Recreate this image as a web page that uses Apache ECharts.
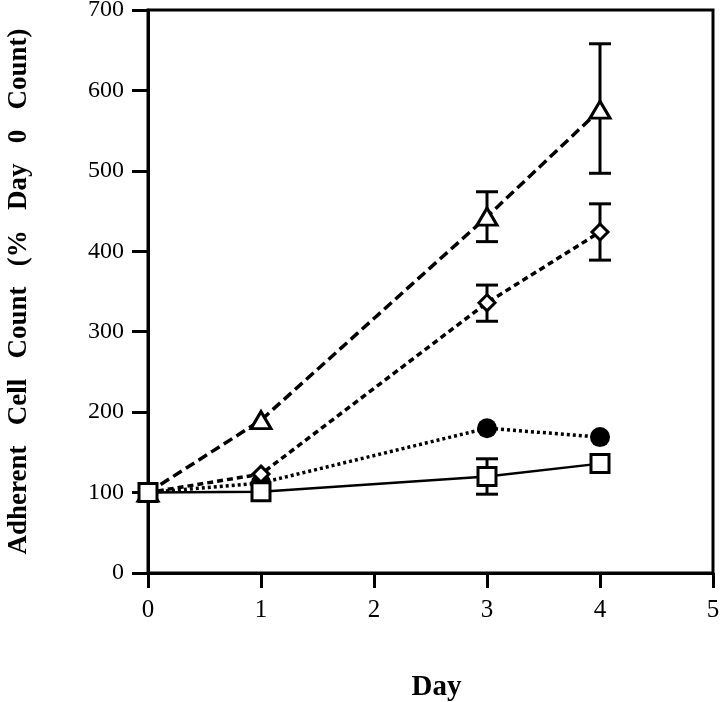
<!DOCTYPE html>
<html>
<head>
<meta charset="utf-8">
<script src="https://cdn.jsdelivr.net/npm/echarts@6/dist/echarts.min.js"></script>
<style>html,body{margin:0;padding:0;background:#fff}#c{width:720px;height:702px}</style>
</head>
<body>
<div id="c"></div>
<script>
var days = [0, 1, 3, 4];
var xTicks = [0, 1, 2, 3, 4, 5];
var yTicks = [0, 100, 200, 300, 400, 500, 600, 700];
var triangleVals = [100, 190, 443, 576];
var diamondVals = [100, 123, 336, 424];
var circleVals = [100, 112, 180, 169];
var squareVals = [100, 101, 120, 136];
// error bars: [day, low, high]
var triangleErr = [[3, 412, 474], [4, 497, 658]];
var diamondErr = [[3, 313, 358], [4, 389, 459]];
var squareErr = [[3, 98, 142]];

function pts(vals) { return days.map(function (d, i) { return [d, vals[i]]; }); }

function errSeries(data) {
  return {
    type: 'custom', z: 1, silent: true,
    data: data,
    renderItem: function (params, api) {
      var x = api.value(0);
      var lo = api.coord([x, api.value(1)]);
      var hi = api.coord([x, api.value(2)]);
      var w = 11;
      var st = { stroke: '#000', lineWidth: 3 };
      return { type: 'group', children: [
        { type: 'line', shape: { x1: lo[0], y1: lo[1], x2: hi[0], y2: hi[1] }, style: st },
        { type: 'line', shape: { x1: lo[0] - w, y1: lo[1], x2: lo[0] + w, y2: lo[1] }, style: st },
        { type: 'line', shape: { x1: hi[0] - w, y1: hi[1], x2: hi[0] + w, y2: hi[1] }, style: st }
      ]};
    }
  };
}

var chart = echarts.init(document.getElementById('c'));
var font = 'Liberation Serif';
chart.setOption({
  animation: false,
  backgroundColor: '#fff',
  grid: { left: 148, right: 7, top: 10, bottom: 129, show: true, borderColor: '#000', borderWidth: 3,
    containLabel: false, outerBoundsMode: 'none' },
  xAxis: {
    type: 'value', min: 0, max: 5, interval: 1,
    name: 'Day', nameLocation: 'middle', nameGap: 100,
    nameTextStyle: { fontFamily: font, fontWeight: 'bold', fontSize: 29, color: '#000', padding: [0, 0, 0, 12] },
    axisLine: { show: true, lineStyle: { color: '#000', width: 3 } },
    axisTick: { show: true, inside: false, length: 15, lineStyle: { color: '#000', width: 3 } },
    axisLabel: { margin: 25, fontFamily: font, fontSize: 25, color: '#000',
      formatter: function (v) { return xTicks.indexOf(v) >= 0 ? String(v) : ''; } },
    splitLine: { show: false }
  },
  yAxis: {
    type: 'value', min: 0, max: 700, interval: 100,
    name: 'Adherent   Cell   Count   (%   Day   0   Count)', nameLocation: 'middle', nameGap: 115,
    nameTextStyle: { fontFamily: font, fontWeight: 'bold', fontSize: 27, color: '#000' },
    axisLine: { show: true, lineStyle: { color: '#000', width: 3 } },
    axisTick: { show: true, inside: false, length: 16, lineStyle: { color: '#000', width: 3 } },
    axisLabel: { margin: 24, fontFamily: font, fontSize: 24, color: '#000',
      formatter: function (v) { return yTicks.indexOf(v) >= 0 ? String(v) : ''; } },
    splitLine: { show: false }
  },
  series: [
    errSeries(triangleErr), errSeries(diamondErr), errSeries(squareErr),
    { type: 'line', data: pts(triangleVals), symbol: 'triangle', symbolSize: [20, 17],
      lineStyle: { color: '#000', width: 3.5, type: [10, 5] },
      itemStyle: { color: '#fff', borderColor: '#000', borderWidth: 3 }, z: 3 },
    { type: 'line', data: pts(circleVals), symbol: 'circle', symbolSize: 20,
      lineStyle: { color: '#000', width: 3.5, type: [3, 3] },
      itemStyle: { color: '#000', borderColor: '#000', borderWidth: 0 }, z: 4 },
    { type: 'line', data: pts(diamondVals), symbol: 'diamond', symbolSize: 16,
      lineStyle: { color: '#000', width: 3.5, type: [6, 4] },
      itemStyle: { color: '#fff', borderColor: '#000', borderWidth: 3 }, z: 5 },
    { type: 'line', data: pts(squareVals), symbol: 'rect', symbolSize: 18,
      lineStyle: { color: '#000', width: 2.5, type: 'solid' },
      itemStyle: { color: '#fff', borderColor: '#000', borderWidth: 3 }, z: 6 }
  ]
});
</script>
</body>
</html>
